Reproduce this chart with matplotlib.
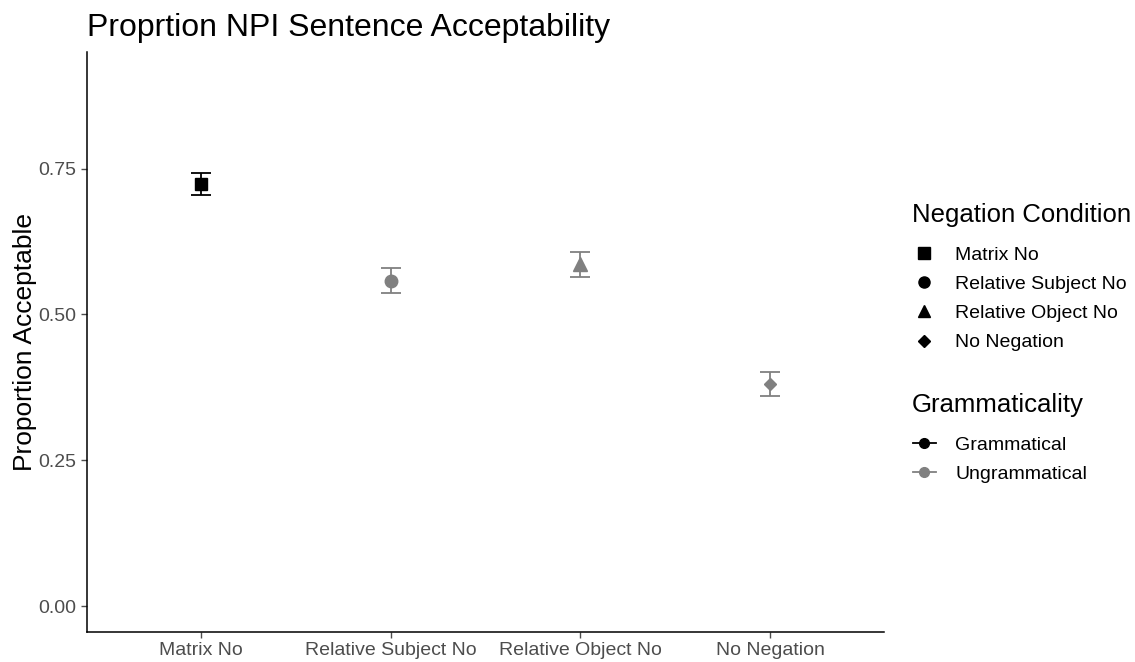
import matplotlib
matplotlib.use("Agg")
import matplotlib.pyplot as plt
from matplotlib.lines import Line2D

plt.rcParams['font.family'] = ['Liberation Sans', 'DejaVu Sans']

categories = ["Matrix No", "Relative Subject No", "Relative Object No", "No Negation"]
means = [0.724, 0.557, 0.587, 0.381]
lower = [0.705, 0.536, 0.565, 0.361]
upper = [0.743, 0.579, 0.607, 0.401]
grammaticality = ["Grammatical", "Ungrammatical", "Ungrammatical", "Ungrammatical"]
gram_levels = ["Grammatical", "Ungrammatical"]
markers = ["s", "o", "^", "D"]
marker_sizes = [8.5, 9, 10, 6.5]
colors = {"Grammatical": "black", "Ungrammatical": "#808080"}
yticks = [0.0, 0.25, 0.5, 0.75]
ytick_labels = ["0.00", "0.25", "0.50", "0.75"]

fig = plt.figure(figsize=(11.35, 6.62), dpi=100)
ax = fig.add_axes([87/1135, 1-632/662, (884-87)/1135, (632-52)/662])

for i, cat in enumerate(categories):
    c = colors[grammaticality[i]]
    ax.errorbar(i, means[i], yerr=[[means[i]-lower[i]], [upper[i]-means[i]]],
                fmt='none', ecolor=c, elinewidth=1.3, capsize=7, capthick=1.3, zorder=2)
    ax.plot(i, means[i], marker=markers[i], color=c, markersize=marker_sizes[i],
            linestyle='none', zorder=3)

ax.set_xlim(-0.6, 3.6)
ax.set_ylim(-0.0445, 0.95)
ax.set_xticks(range(len(categories)))
ax.set_xticklabels(categories)
ax.set_yticks(yticks)
ax.set_yticklabels(ytick_labels)
ax.tick_params(axis='both', colors='#4d4d4d', labelcolor='#4d4d4d', labelsize=14,
               length=4, width=1)
for s in ['top', 'right']:
    ax.spines[s].set_visible(False)
for s in ['left', 'bottom']:
    ax.spines[s].set_linewidth(1.1)
    ax.spines[s].set_color('black')
ax.set_ylabel("Proportion Acceptable", fontsize=19, color='black', labelpad=1)
fig.text(87/1135, 1-28/662, "Proprtion NPI Sentence Acceptability", fontsize=23,
         ha='left', va='center')

# Legend 1: Negation Condition
fig.text(912/1135, 1-215/662, "Negation Condition", fontsize=18.5, ha='left', va='center')
shape_handles = [Line2D([], [], marker=m, color='black', linestyle='none', markersize=ms)
                 for m, ms in zip(markers, [8, 8, 9, 6])]
fig.legend(shape_handles, categories,
           loc='upper left', bbox_to_anchor=(895/1135, 1-229/662),
           frameon=False, fontsize=14,
           handlelength=1.2, handletextpad=1.0, labelspacing=0.59)

# Legend 2: Grammaticality
fig.text(912/1135, 1-405/662, "Grammaticality", fontsize=18.5, ha='left', va='center')
gram_handles = [Line2D([], [], marker='o', color=colors[g], markersize=7, linewidth=1.3)
                for g in gram_levels]
fig.legend(gram_handles, gram_levels,
           loc='upper left', bbox_to_anchor=(895/1135, 1-419/662),
           frameon=False, fontsize=14,
           handlelength=1.2, handletextpad=1.0, labelspacing=0.59)

fig.savefig("out.png", dpi=100)
